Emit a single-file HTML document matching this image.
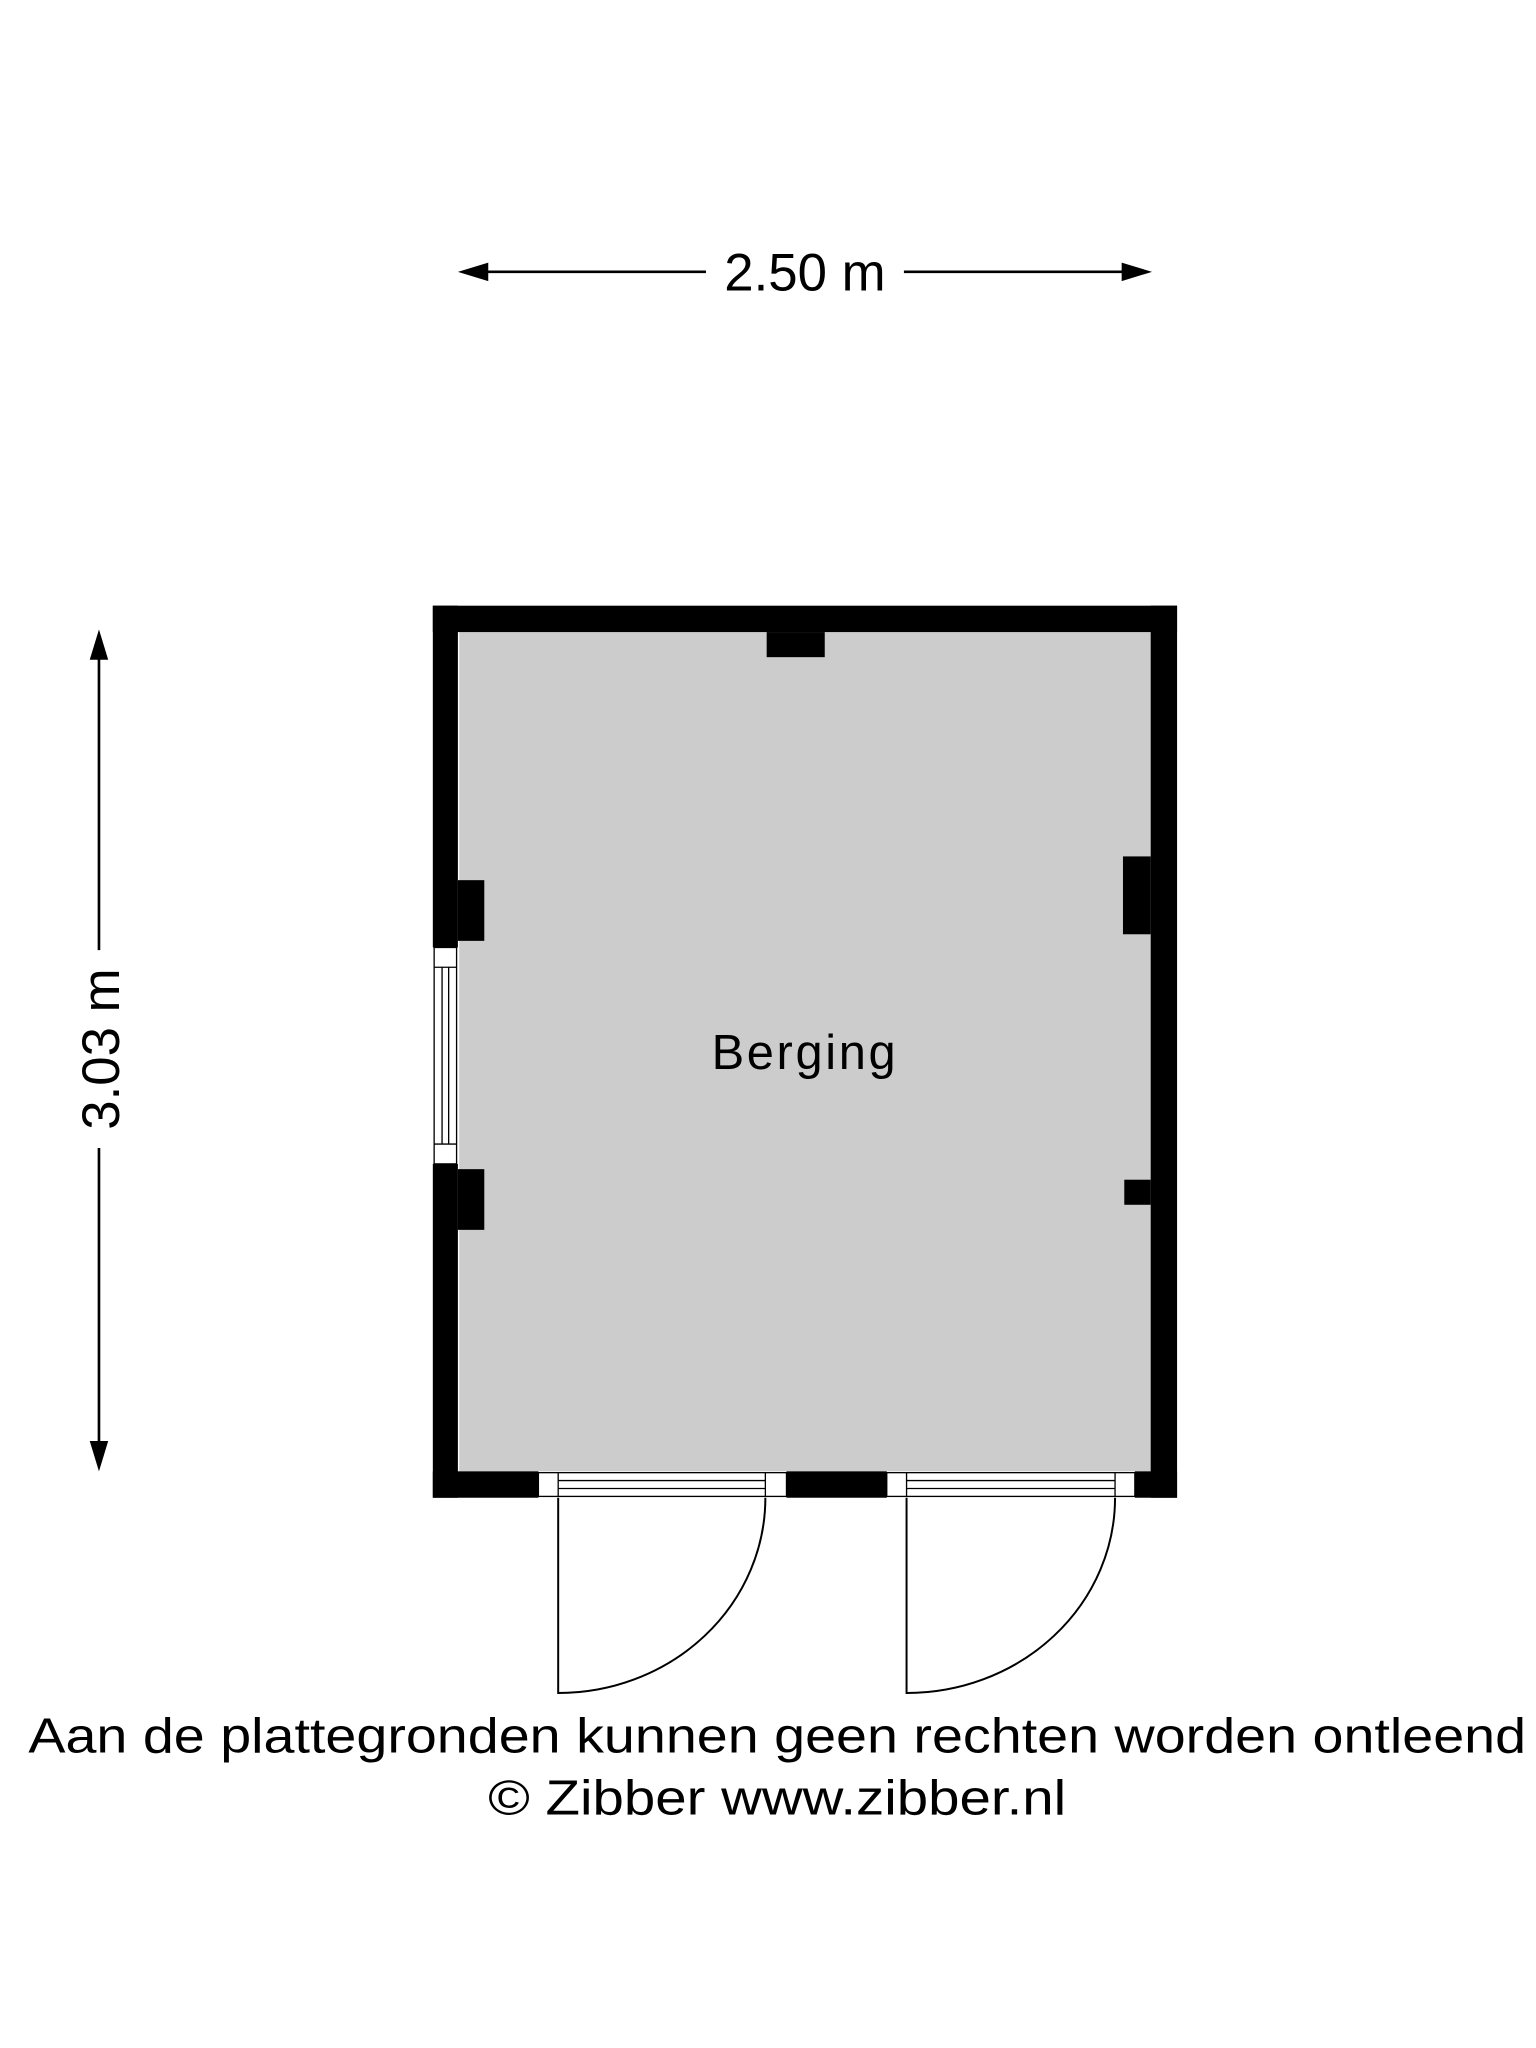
<!DOCTYPE html>
<html><head><meta charset="utf-8"><style>
html,body{margin:0;padding:0;background:#fff;}
svg{display:block;}
text{font-family:"Liberation Sans",sans-serif;fill:#000;}
</style></head><body>
<svg width="1536" height="2048" viewBox="0 0 1164 1552" xmlns="http://www.w3.org/2000/svg">
<rect width="1164" height="1552" fill="#fff"/>
<line x1="352" y1="206" x2="535" y2="206" stroke="#000" stroke-width="2"/>
<line x1="685" y1="206" x2="868" y2="206" stroke="#000" stroke-width="2"/>
<polygon points="347,206 370,199 370,213" fill="#000"/>
<polygon points="873,206 850,199 850,213" fill="#000"/>
<text x="610" y="220" font-size="40" text-anchor="middle">2.50 m</text>
<line x1="75" y1="482" x2="75" y2="720" stroke="#000" stroke-width="2"/>
<line x1="75" y1="870" x2="75" y2="1110" stroke="#000" stroke-width="2"/>
<polygon points="75,477 68,500 82,500" fill="#000"/>
<polygon points="75,1115 68,1092 82,1092" fill="#000"/>
<text x="0" y="0" font-size="40" text-anchor="middle" transform="translate(90,795) rotate(-90)">3.03 m</text>
<rect x="348" y="479" width="524" height="636" fill="#ccc"/>
<rect x="328" y="459" width="564" height="20" fill="#000"/>
<rect x="872" y="459" width="20" height="676" fill="#000"/>
<rect x="328" y="459" width="19" height="259" fill="#000"/>
<rect x="328" y="882" width="19" height="253" fill="#000"/>
<rect x="328" y="1115" width="80" height="20" fill="#000"/>
<rect x="596" y="1115" width="76" height="20" fill="#000"/>
<rect x="860" y="1115" width="32" height="20" fill="#000"/>
<rect x="581" y="479" width="44" height="19" fill="#000"/>
<rect x="347" y="667" width="20" height="46" fill="#000"/>
<rect x="347" y="886" width="20" height="46" fill="#000"/>
<rect x="851" y="649" width="21" height="59" fill="#000"/>
<rect x="852" y="894" width="20" height="19" fill="#000"/>
<g fill="#fff" stroke="#000" stroke-width="1">
<rect x="329" y="718" width="17" height="164"/>
<line x1="329" y1="733" x2="346" y2="733"/>
<line x1="329" y1="867" x2="346" y2="867"/>
<line x1="335" y1="733" x2="335" y2="867"/>
<line x1="340" y1="733" x2="340" y2="867"/>
</g>
<g fill="#fff" stroke="#000" stroke-width="1">
<rect x="408" y="1116" width="188" height="18"/>
<line x1="423" y1="1116" x2="423" y2="1134"/>
<line x1="580" y1="1116" x2="580" y2="1134"/>
<line x1="423" y1="1122" x2="580" y2="1122"/>
<line x1="423" y1="1128" x2="580" y2="1128"/>
<rect x="672" y="1116" width="188" height="18"/>
<line x1="687" y1="1116" x2="687" y2="1134"/>
<line x1="845" y1="1116" x2="845" y2="1134"/>
<line x1="687" y1="1122" x2="845" y2="1122"/>
<line x1="687" y1="1128" x2="845" y2="1128"/>
</g>
<g fill="none" stroke="#000" stroke-width="1.5">
<path d="M423,1135 L423,1283 A157,148 0 0 0 580,1135"/>
<path d="M687,1135 L687,1283 A158,148 0 0 0 845,1135"/>
</g>
<text x="610" y="810" font-size="37" text-anchor="middle" letter-spacing="2">Berging</text>
<text x="589" y="1328" font-size="37" text-anchor="middle" textLength="1135" lengthAdjust="spacingAndGlyphs">Aan de plattegronden kunnen geen rechten worden ontleend</text>
<text x="589" y="1375" font-size="37" text-anchor="middle" textLength="438" lengthAdjust="spacingAndGlyphs">© Zibber www.zibber.nl</text>
</svg>
</body></html>
